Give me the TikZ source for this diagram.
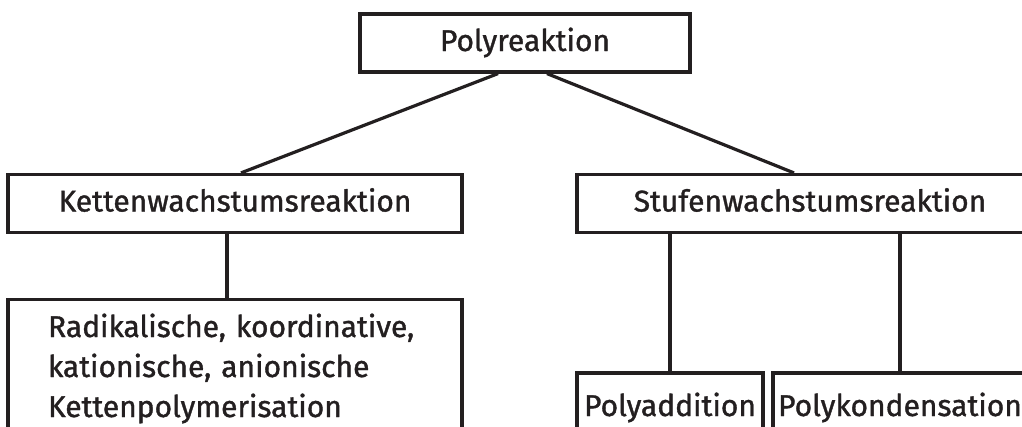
\documentclass[tikz,border=0pt]{standalone}
\usepackage{fontspec}
\setmainfont{Fira Sans}[FakeBold=1.2]
\usetikzlibrary{positioning,calc}
\definecolor{ink}{HTML}{231F20}
\begin{document}
\begin{tikzpicture}[
x=1pt,y=-1pt,
frame/.style={
  draw=ink,
  line width=3.2pt,
  inner sep=0pt,
  text=ink,
  font=\fontsize{30}{40}\selectfont
},
box/.style={
  frame,
  minimum height=58pt,
  text height=22pt,
  text depth=6pt
},
conn/.style={
  draw=ink,
  line width=3.2pt
}
]
\useasboundingbox (0,0) rectangle (1022,426);
\clip (0,0) rectangle (1022,426);
\node[box,minimum width=330pt] at (525,43)
  (poly) {Polyreaktion};
\node[box,minimum width=454pt] at (235,203.5)
  (ketten) {Kettenwachstumsreaktion};
\node[box,minimum width=466pt] at (810,203.5)
  (stufen) {Stufenwachstumsreaktion};
\node[frame,anchor=north,text width=374pt,align=left,inner xsep=40pt,inner ysep=14pt] at (235,298)
  (radikal) {Radikalische, koordinative,\\ kationische, anionische\\ Kettenpolymerisation};
\node[box,minimum width=186pt,minimum height=70pt] at (670,408)
  (polyadd) {Polyaddition};
\node[box,minimum width=254pt,minimum height=70pt] at (900,408)
  (polykond) {Polykondensation};

\draw[conn] ([xshift=-27pt]poly.south) -- ([xshift=6pt]ketten.north);
\draw[conn] ([xshift=22pt]poly.south) -- ([xshift=-16pt]stufen.north);
\draw[conn] ([xshift=-8pt]ketten.south) -- ([xshift=-8pt]radikal.north);
\draw[conn] (polyadd.north |- stufen.south) -- (polyadd.north);
\draw[conn] (polykond.north |- stufen.south) -- (polykond.north);
\end{tikzpicture}
\end{document}
